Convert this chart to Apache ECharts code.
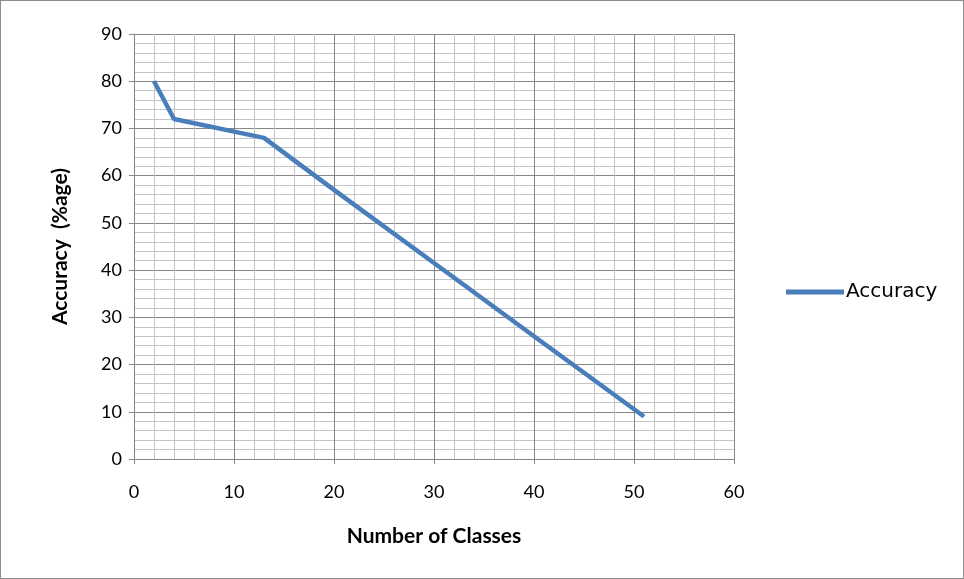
<!DOCTYPE html>
<html>
<head>
<meta charset="utf-8">
<script src="https://cdn.jsdelivr.net/npm/echarts@6/dist/echarts.min.js"></script>
<style>
  html, body { margin: 0; padding: 0; background: #fff; }
  #chart { width: 964px; height: 579px; box-sizing: border-box; border: 1px solid #8c8c8c; }
</style>
</head>
<body>
<div id="chart"></div>
<script>
const classes = [2, 4, 13, 20, 30, 40, 51]
const accuracy = [80, 72, 68, 57, 41.5, 26, 9]
const seriesName = 'Accuracy'

const points = classes.map((c, i) => [c, accuracy[i]])

const axisText = { color: '#000', fontFamily: 'Lato, "Open Sans", sans-serif', fontSize: 18 }
const nameText = { color: '#000', fontFamily: 'Lato, "Open Sans", sans-serif', fontSize: 21, fontWeight: 'bold' }

const chart = echarts.init(document.getElementById('chart'))
chart.setOption({
  animation: false,
  grid: { left: 133, top: 33, width: 600, height: 425, containLabel: false },
  legend: {
    data: [seriesName],
    left: 785,
    top: 281,
    padding: 0,
    itemWidth: 58,
    itemHeight: 5,
    itemGap: 0,
    icon: 'rect',
    textStyle: { color: '#000', fontFamily: '"DejaVu Sans", sans-serif', fontSize: 20, padding: [0, 0, 0, -3] }
  },
  xAxis: {
    type: 'value',
    min: 0,
    max: 60,
    interval: 10,
    name: 'Number of Classes',
    nameLocation: 'middle',
    nameGap: 67,
    nameTextStyle: nameText,
    axisLine: { onZero: false, lineStyle: { color: '#868686', width: 1 } },
    axisTick: { show: true, length: 5, lineStyle: { color: '#868686' } },
    axisLabel: Object.assign({ margin: 24 }, axisText),
    splitLine: { show: true, lineStyle: { color: '#868686', width: 1 } },
    minorTick: { show: false, splitNumber: 5 },
    minorSplitLine: { show: true, lineStyle: { color: '#c4c4c4', width: 1 } }
  },
  yAxis: {
    type: 'value',
    min: 0,
    max: 90,
    interval: 10,
    name: 'Accuracy  (%age)',
    nameLocation: 'middle',
    nameGap: 63,
    nameRotate: 90,
    nameTextStyle: nameText,
    axisLine: { show: true, onZero: false, lineStyle: { color: '#868686', width: 1 } },
    axisTick: { show: true, length: 5, lineStyle: { color: '#868686' } },
    axisLabel: Object.assign({ margin: 12 }, axisText),
    splitLine: { show: true, lineStyle: { color: '#868686', width: 1 } },
    minorTick: { show: false, splitNumber: 5 },
    minorSplitLine: { show: true, lineStyle: { color: '#c4c4c4', width: 1 } }
  },
  series: [{
    name: seriesName,
    type: 'line',
    data: points,
    showSymbol: false,
    symbol: 'none',
    lineStyle: { color: '#4a7ebb', width: 4.5 },
    itemStyle: { color: '#4a7ebb' }
  }]
})
</script>
</body>
</html>
